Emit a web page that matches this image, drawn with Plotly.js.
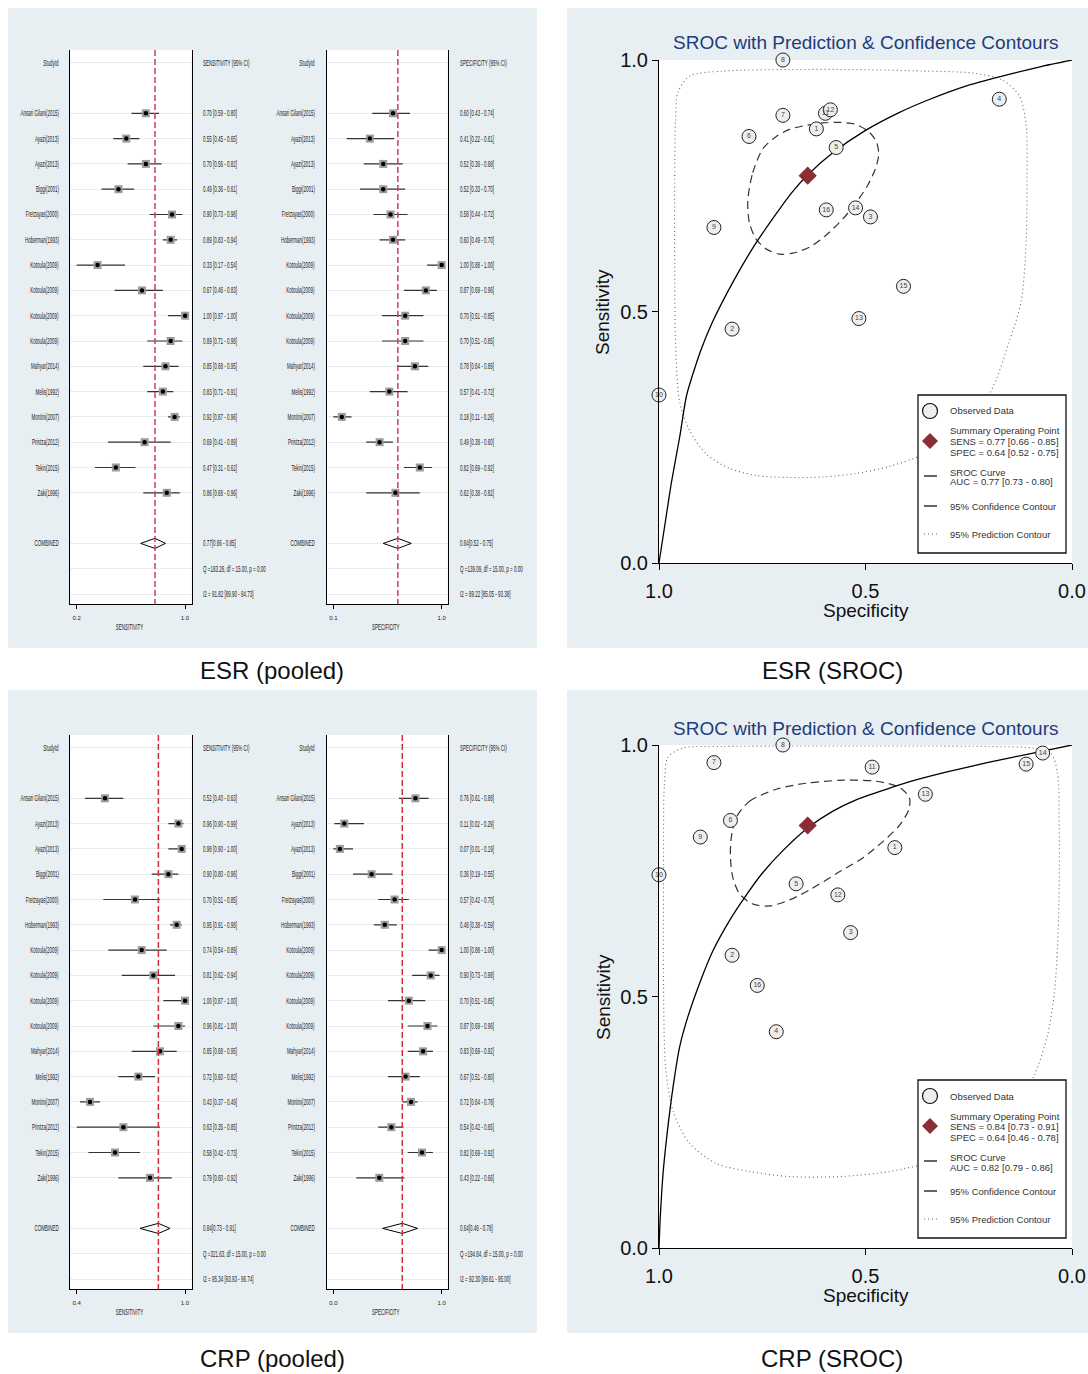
<!DOCTYPE html>
<html><head><meta charset="utf-8">
<script src="https://cdn.plot.ly/plotly-3.0.1.min.js"></script>
<style>html,body{margin:0;padding:0;background:#fff}#chart{width:1088px;height:1374px}</style>
</head><body><div id="chart"></div>
<script>
// ---------------- DATA ----------------
const studies = ["Ansari Gilani(2015)","Ayazi(2013)","Ayazi(2013)","Biggi(2001)","Fretzayas(2000)","Hoberman(1993)","Kotoula(2009)","Kotoula(2009)","Kotoula(2009)","Kotoula(2009)","Mahyar(2014)","Melis(1992)","Montini(2007)","Printza(2012)","Tekin(2015)","Zaki(1996)"];

const esrSens   = [0.70,0.55,0.70,0.49,0.90,0.89,0.33,0.67,1.00,0.89,0.85,0.83,0.92,0.69,0.47,0.86];
const esrSensLo = [0.59,0.45,0.56,0.36,0.73,0.83,0.17,0.46,0.87,0.71,0.68,0.71,0.87,0.41,0.31,0.68];
const esrSensHi = [0.80,0.65,0.82,0.61,0.98,0.94,0.54,0.83,1.00,0.98,0.95,0.91,0.96,0.89,0.62,0.96];
const esrSpec   = [0.60,0.41,0.52,0.52,0.58,0.60,1.00,0.87,0.70,0.70,0.78,0.57,0.18,0.49,0.82,0.62];
const esrSpecLo = [0.43,0.22,0.36,0.33,0.44,0.49,0.88,0.69,0.51,0.51,0.64,0.41,0.11,0.38,0.69,0.38];
const esrSpecHi = [0.74,0.61,0.68,0.70,0.72,0.70,1.00,0.96,0.85,0.85,0.89,0.72,0.26,0.60,0.92,0.82];

const crpSens   = [0.52,0.96,0.98,0.90,0.70,0.95,0.74,0.81,1.00,0.96,0.85,0.72,0.43,0.63,0.58,0.79];
const crpSensLo = [0.40,0.90,0.90,0.80,0.51,0.91,0.54,0.62,0.87,0.81,0.68,0.60,0.37,0.35,0.42,0.60];
const crpSensHi = [0.63,0.99,1.00,0.96,0.85,0.98,0.89,0.94,1.00,1.00,0.95,0.82,0.49,0.85,0.73,0.92];
const crpSpec   = [0.76,0.11,0.07,0.36,0.57,0.48,1.00,0.90,0.70,0.87,0.83,0.67,0.72,0.54,0.82,0.43];
const crpSpecLo = [0.61,0.02,0.01,0.19,0.42,0.38,0.88,0.73,0.51,0.69,0.69,0.51,0.64,0.42,0.69,0.22];
const crpSpecHi = [0.88,0.29,0.19,0.55,0.70,0.59,1.00,0.98,0.85,0.96,0.92,0.80,0.78,0.65,0.92,0.66];

// pooled [estimate, lo, hi]
const esrSensComb = [0.77,0.66,0.85];
const esrSpecComb = [0.64,0.52,0.75];
const crpSensComb = [0.84,0.73,0.91];
const crpSpecComb = [0.64,0.46,0.78];

const esrSensStats = ["Q =183.26, df = 15.00, p = 0.00","I2 = 91.82 [89.90 - 94.73]"];
const esrSpecStats = ["Q =139.09, df = 15.00, p = 0.00","I2 = 89.22 [85.05 - 93.38]"];
const crpSensStats = ["Q =321.63, df = 15.00, p = 0.00","I2 = 95.34 [93.93 - 96.74]"];
const crpSpecStats = ["Q =194.84, df = 15.00, p = 0.00","I2 = 92.30 [89.61 - 95.00]"];

// forest x tick values / labels
const esrSensTickVals = [0.17,1.0], esrSensTickText = ["0.2","1.0"];
const esrSpecTickVals = [0.11,1.0], esrSpecTickText = ["0.1","1.0"];
const crpSensTickVals = [0.35,1.0], crpSensTickText = ["0.4","1.0"];
const crpSpecTickVals = [0.01,1.0], crpSpecTickText = ["0.0","1.0"];

// SROC observed data (labels, specificity, sensitivity)
const srocLabels = ["1","2","3","4","5","6","7","8","9","10","11","12","13","14","15","16"];
const esrObsSpec = [0.619,0.823,0.488,0.176,0.571,0.782,0.700,0.700,0.867,1.000,0.597,0.585,0.516,0.524,0.408,0.595];
const esrObsSens = [0.863,0.465,0.688,0.922,0.826,0.848,0.890,1.000,0.667,0.334,0.894,0.901,0.486,0.706,0.550,0.702];
const crpObsSpec = [0.429,0.823,0.536,0.716,0.668,0.827,0.867,0.700,0.900,1.000,0.484,0.567,0.355,0.071,0.111,0.762];
const crpObsSens = [0.796,0.582,0.627,0.430,0.724,0.850,0.965,1.000,0.817,0.742,0.956,0.702,0.902,0.984,0.962,0.522];

// SROC curves
const esrCurveSpec = [1.0,0.985,0.97,0.95,0.933,0.90,0.87,0.82,0.77,0.72,0.68,0.642,0.58,0.50,0.42,0.35,0.25,0.15,0.07,0.0];
const esrCurveSens = [0.0,0.08,0.16,0.25,0.334,0.42,0.48,0.56,0.63,0.69,0.735,0.77,0.815,0.86,0.895,0.92,0.95,0.972,0.988,1.0];
const crpCurveSpec = [1.0,0.997,0.99,0.98,0.966,0.95,0.93,0.90,0.87,0.83,0.79,0.75,0.70,0.64,0.58,0.52,0.45,0.38,0.30,0.20,0.10,0.0];
const crpCurveSens = [0.0,0.06,0.15,0.23,0.32,0.40,0.46,0.53,0.59,0.65,0.70,0.745,0.79,0.835,0.868,0.892,0.912,0.930,0.947,0.966,0.983,1.0];

// 95% confidence contours
const esrCiSpec = [0.785,0.773,0.748,0.716,0.684,0.644,0.603,0.563,0.523,0.490,0.473,0.468,0.476,0.494,0.523,0.555,0.595,0.635,0.676,0.708,0.740,0.765,0.781,0.785];
const esrCiSens = [0.720,0.776,0.824,0.848,0.862,0.870,0.875,0.876,0.872,0.856,0.836,0.812,0.784,0.752,0.716,0.684,0.652,0.628,0.616,0.614,0.624,0.644,0.676,0.720];
const crpCiSpec = [0.813,0.781,0.716,0.644,0.555,0.474,0.418,0.394,0.395,0.418,0.458,0.506,0.571,0.635,0.684,0.732,0.773,0.805,0.821,0.827,0.825,0.813];
const crpCiSens = [0.856,0.888,0.912,0.924,0.930,0.928,0.916,0.896,0.872,0.840,0.808,0.776,0.744,0.712,0.692,0.680,0.684,0.704,0.736,0.776,0.816,0.856];

// 95% prediction contours
const esrPrSpec = [0.962,0.960,0.954,0.926,0.845,0.684,0.523,0.361,0.240,0.168,0.127,0.111,0.109,0.111,0.123,0.152,0.200,0.281,0.361,0.442,0.523,0.603,0.684,0.765,0.829,0.885,0.926,0.950,0.960,0.962,0.962];
const esrPrSens = [0.760,0.880,0.936,0.968,0.978,0.981,0.981,0.978,0.974,0.960,0.928,0.872,0.760,0.640,0.520,0.440,0.336,0.264,0.216,0.192,0.178,0.171,0.170,0.174,0.188,0.216,0.264,0.320,0.440,0.600,0.760];
const crpPrSpec = [0.989,0.987,0.978,0.942,0.845,0.684,0.523,0.361,0.200,0.095,0.051,0.035,0.031,0.031,0.035,0.043,0.059,0.091,0.144,0.216,0.321,0.442,0.563,0.684,0.781,0.861,0.926,0.966,0.984,0.989,0.989];
const crpPrSens = [0.760,0.920,0.976,0.994,0.997,0.998,0.998,0.998,0.997,0.994,0.984,0.944,0.840,0.720,0.600,0.504,0.424,0.344,0.272,0.216,0.176,0.152,0.142,0.142,0.152,0.168,0.208,0.272,0.360,0.520,0.760];

const srocTickVals = [0,0.5,1], srocTickText = ["0.0","0.5","1.0"];
const esrAuc = "0.77 [0.73 - 0.80]";
const crpAuc = "0.82 [0.79 - 0.86]";

// ---------------- LAYOUT HELPERS ----------------
const W = 1088, H = 1374;
const px = v => v / W, py = v => 1 - v / H;
const SANS = '"Liberation Sans", Arial, sans-serif';
const PANEL = '#e8eff2';
const SQUEEZE = 0.5;           // horizontal compression of the forest-plot text
const squeezeIdx = new Set();

const traces = [], shapes = [], annotations = [];
const layout = {width:W, height:H, margin:{l:0,r:0,t:0,b:0,pad:0}, paper_bgcolor:'#ffffff',
  plot_bgcolor:'rgba(0,0,0,0)', showlegend:false, hovermode:false, shapes, annotations};

[[8,8,537,648],[567,8,1088,648],[8,690,537,1333],[567,690,1088,1333]].forEach(r =>
  shapes.push({type:'rect', xref:'paper', yref:'paper', x0:px(r[0]), x1:px(r[2]), y0:py(r[3]), y1:py(r[1]),
    fillcolor:PANEL, line:{width:0}, layer:'below'}));

function txt(x, y, text, o) {
  annotations.push(Object.assign({x:x, y:y, text:text, showarrow:false, xref:'paper', yref:'paper',
    xanchor:'center', yanchor:'middle', font:{family:SANS, size:10, color:'#222'}}, o || {}));
}

const SLOT = 25.3;
function forest(c) {
  const sx = c.n === 1 ? '' : String(c.n);
  const xa = 'x' + sx, ya = 'y' + sx;
  const top = c.header - 0.5 * SLOT, bottom = c.header + 21.4 * SLOT;
  shapes.push({type:'rect', xref:'paper', yref:'paper', x0:px(c.left), x1:px(c.right), y0:py(bottom), y1:py(top),
    fillcolor:'#ffffff', line:{width:0}, layer:'below'});
  const gridSlots = [0];
  for (let i = 0; i < c.vals.length; i++) gridSlots.push(i + 2);
  gridSlots.push(19, 20, 21);
  layout['xaxis' + sx] = {domain:[px(c.left), px(c.right)], range:c.range, anchor:ya,
    tickvals:c.tickVals, ticktext:c.tickText, ticks:'outside', ticklen:4, tickwidth:1, tickcolor:'#000',
    ticklabelstandoff:4,
    showline:true, linecolor:'#000', linewidth:1, showgrid:false, zeroline:false,
    tickfont:{family:SANS, size:6, color:'#222'}, fixedrange:true};
  layout['yaxis' + sx] = {domain:[py(bottom), py(top)], range:[21.4, -0.5], anchor:xa,
    tickvals:gridSlots, showticklabels:false, ticks:'', showgrid:true, gridcolor:'#e6edf0', gridwidth:1,
    showline:true, mirror:true, linecolor:'#000', linewidth:1, zeroline:false, fixedrange:true};
  const slots = c.vals.map((v, i) => i + 2);
  traces.push({type:'scatter', mode:'markers', x:c.vals, y:slots, xaxis:xa, yaxis:ya, cliponaxis:false,
    marker:{symbol:'square', size:8, color:'#9c9c9c'},
    error_x:{type:'data', symmetric:false, array:c.hi.map((h, i) => h - c.vals[i]),
      arrayminus:c.vals.map((v, i) => v - c.lo[i]), width:0, thickness:1.2, color:'#333'}});
  traces.push({type:'scatter', mode:'markers', x:c.vals, y:slots, xaxis:xa, yaxis:ya, cliponaxis:false,
    marker:{symbol:'circle', size:4.5, color:'#000'}});
  const cb = c.comb;
  traces.push({type:'scatter', mode:'lines', x:[cb[1], cb[0], cb[2], cb[0], cb[1]], y:[19, 18.8, 19, 19.2, 19],
    xaxis:xa, yaxis:ya, line:{color:'#000', width:1}});
  shapes.push({type:'line', xref:xa, yref:ya, x0:cb[0], x1:cb[0], y0:-0.5, y1:21.4,
    line:{color:c.dash, width:1.5, dash:'6px,3px'}, layer:'above'});
  const f = {family:SANS, size:9, color:'#222'};
  const lab = (k, t) => { squeezeIdx.add(annotations.length);
    annotations.push({xref:'paper', yref:ya, x:px(c.labelX), y:k, text:t, showarrow:false,
      xanchor:'right', yanchor:'middle', font:f}); };
  const val = (k, t) => { squeezeIdx.add(annotations.length);
    annotations.push({xref:'paper', yref:ya, x:px(c.valueX), y:k, text:t, showarrow:false,
      xanchor:'left', yanchor:'middle', font:f}); };
  lab(0, 'StudyId');
  val(0, c.headerText);
  studies.forEach((s, i) => {
    lab(i + 2, s);
    val(i + 2, c.vals[i].toFixed(2) + ' [' + c.lo[i].toFixed(2) + ' - ' + c.hi[i].toFixed(2) + ']');
  });
  lab(19, 'COMBINED');
  val(19, cb[0].toFixed(2) + '[' + cb[1].toFixed(2) + ' - ' + cb[2].toFixed(2) + ']');
  val(20, c.stats[0]);
  val(21, c.stats[1]);
  squeezeIdx.add(annotations.length);
  txt(px(c.titleX), py(c.header + 564.5), c.axisTitle, {font:{family:SANS, size:9, color:'#222'}});
}

forest({n:1, left:70.3, right:191.7, header:62.7, vals:esrSens, lo:esrSensLo, hi:esrSensHi, comb:esrSensComb,
  range:[0.121, 1.051], tickVals:esrSensTickVals, tickText:esrSensTickText, labelX:61, valueX:200.7,
  headerText:'SENSITIVITY (95% CI)', stats:esrSensStats, axisTitle:'SENSITIVITY', titleX:129, dash:'#cf3a62'});
forest({n:2, left:326.7, right:447.7, header:62.7, vals:esrSpec, lo:esrSpecLo, hi:esrSpecHi, comb:esrSpecComb,
  range:[0.0558, 1.0493], tickVals:esrSpecTickVals, tickText:esrSpecTickText, labelX:316.7, valueX:457.7,
  headerText:'SPECIFICITY (95% CI)', stats:esrSpecStats, axisTitle:'SPECIFICITY', titleX:386, dash:'#cf3a62'});
forest({n:4, left:70.3, right:191.7, header:747.7, vals:crpSens, lo:crpSensLo, hi:crpSensHi, comb:crpSensComb,
  range:[0.3116, 1.040], tickVals:crpSensTickVals, tickText:crpSensTickText, labelX:61, valueX:200.7,
  headerText:'SENSITIVITY (95% CI)', stats:crpSensStats, axisTitle:'SENSITIVITY', titleX:129, dash:'#d62a35'});
forest({n:5, left:326.7, right:447.7, header:747.7, vals:crpSpec, lo:crpSpecLo, hi:crpSpecHi, comb:crpSpecComb,
  range:[-0.0503, 1.0548], tickVals:crpSpecTickVals, tickText:crpSpecTickText, labelX:316.7, valueX:457.7,
  headerText:'SPECIFICITY (95% CI)', stats:crpSpecStats, axisTitle:'SPECIFICITY', titleX:386, dash:'#d62a35'});

function sroc(c) {
  const sx = String(c.n), xa = 'x' + sx, ya = 'y' + sx;
  const top = c.top, bottom = c.top + 503, left = 659, right = 1072;
  shapes.push({type:'rect', xref:'paper', yref:'paper', x0:px(left), x1:px(right), y0:py(bottom), y1:py(top),
    fillcolor:'#ffffff', line:{width:0}, layer:'below'});
  const ax = {tickvals:srocTickVals, ticktext:srocTickText, ticks:'outside', ticklen:6, tickwidth:1, tickcolor:'#000',
    showline:true, linecolor:'#000', linewidth:1, showgrid:false, zeroline:false, fixedrange:true,
    tickfont:{family:SANS, size:20, color:'#111'}};
  layout['xaxis' + sx] = Object.assign({domain:[px(left), px(right)], range:[1, 0], anchor:ya, ticklabelstandoff:4}, ax);
  layout['yaxis' + sx] = Object.assign({domain:[py(bottom), py(top)], range:[0, 1], anchor:xa}, ax);
  traces.push({type:'scatter', mode:'lines', x:c.prSpec, y:c.prSens, xaxis:xa, yaxis:ya,
    line:{color:'#666', width:1.1, dash:'1px,3px', shape:'spline', smoothing:0.8}});
  traces.push({type:'scatter', mode:'lines', x:c.ciSpec, y:c.ciSens, xaxis:xa, yaxis:ya,
    line:{color:'#333', width:1.2, dash:'8px,5px', shape:'spline', smoothing:0.8}});
  traces.push({type:'scatter', mode:'lines', x:c.curveSpec, y:c.curveSens, xaxis:xa, yaxis:ya,
    line:{color:'#000', width:1.3, shape:'spline', smoothing:0.6}});
  traces.push({type:'scatter', mode:'markers+text', x:c.obsSpec, y:c.obsSens, text:srocLabels, xaxis:xa, yaxis:ya,
    cliponaxis:false, textposition:'middle center', textfont:{family:SANS, size:7, color:'#444'},
    marker:{symbol:'circle', size:14, color:'#eeeeee', line:{color:'#222', width:1}}});
  traces.push({type:'scatter', mode:'markers', x:[c.sumSpec], y:[c.sumSens], xaxis:xa, yaxis:ya, cliponaxis:false,
    marker:{symbol:'diamond', size:14, color:'#8b2d37', line:{width:0}}});
  txt(px(865), py(top - 17), 'SROC with Prediction &amp; Confidence Contours', {font:{family:SANS, size:19, color:'#1f3c7a'}});
  txt(px(603), py(top + 252), 'Sensitivity', {textangle:-90, font:{family:SANS, size:19, color:'#111'}});
  txt(px(866), py(top + 550), 'Specificity', {font:{family:SANS, size:19, color:'#111'}});
  // legend box
  shapes.push({type:'rect', xref:'paper', yref:'paper', x0:px(918), x1:px(1066), y0:py(top + 493), y1:py(top + 335),
    fillcolor:'#ffffff', line:{color:'#111', width:1.3}, layer:'above'});
  shapes.push({type:'circle', xref:'paper', yref:'paper', x0:px(922.5), x1:px(937.5), y0:py(top + 358.5), y1:py(top + 343.5),
    fillcolor:'#eeeeee', line:{color:'#111', width:1.2}, layer:'above'});
  shapes.push({type:'path', xref:'paper', yref:'paper', layer:'above', fillcolor:'#8b2d37', line:{width:0},
    path:'M' + px(930) + ',' + py(top + 373) + ' L' + px(938) + ',' + py(top + 381) + ' L' + px(930) + ',' + py(top + 389) +
      ' L' + px(922) + ',' + py(top + 381) + ' Z'});
  shapes.push({type:'line', xref:'paper', yref:'paper', x0:px(924), x1:px(937), y0:py(top + 416), y1:py(top + 416),
    line:{color:'#111', width:1.3}, layer:'above'});
  shapes.push({type:'line', xref:'paper', yref:'paper', x0:px(924), x1:px(937), y0:py(top + 446), y1:py(top + 446),
    line:{color:'#111', width:1.3}, layer:'above'});
  shapes.push({type:'line', xref:'paper', yref:'paper', x0:px(924), x1:px(938), y0:py(top + 474), y1:py(top + 474),
    line:{color:'#666', width:1, dash:'1px,3px'}, layer:'above'});
  const lf = {family:SANS, size:9.5, color:'#333'};
  const L = (dy, t) => txt(px(948), py(top + dy), t, {xanchor:'left', font:lf});
  L(351, 'Observed Data');
  L(371, 'Summary Operating Point');
  L(381.5, 'SENS = ' + c.sumSens.toFixed(2) + ' [' + c.sensCI + ']');
  L(392, 'SPEC = ' + c.sumSpec.toFixed(2) + ' [' + c.specCI + ']');
  L(412, 'SROC Curve');
  L(422, 'AUC = ' + c.auc);
  L(446, '95% Confidence Contour');
  L(474, '95% Prediction Contour');
}

sroc({n:3, top:60, obsSpec:esrObsSpec, obsSens:esrObsSens, sumSpec:esrSpecComb[0], sumSens:esrSensComb[0],
  sensCI:esrSensComb[1].toFixed(2) + ' - ' + esrSensComb[2].toFixed(2), specCI:esrSpecComb[1].toFixed(2) + ' - ' + esrSpecComb[2].toFixed(2),
  curveSpec:esrCurveSpec, curveSens:esrCurveSens, ciSpec:esrCiSpec, ciSens:esrCiSens, prSpec:esrPrSpec, prSens:esrPrSens, auc:esrAuc});
sroc({n:6, top:745, obsSpec:crpObsSpec, obsSens:crpObsSens, sumSpec:crpSpecComb[0], sumSens:crpSensComb[0],
  sensCI:crpSensComb[1].toFixed(2) + ' - ' + crpSensComb[2].toFixed(2), specCI:crpSpecComb[1].toFixed(2) + ' - ' + crpSpecComb[2].toFixed(2),
  curveSpec:crpCurveSpec, curveSens:crpCurveSens, ciSpec:crpCiSpec, ciSens:crpCiSens, prSpec:crpPrSpec, prSens:crpPrSens, auc:crpAuc});

// captions
const capFont = {family:SANS, size:24, color:'#111'};
txt(px(272), py(670), 'ESR (pooled)', {font:capFont});
txt(px(832), py(670), 'ESR (SROC)', {font:capFont});
txt(px(272), py(1358), 'CRP (pooled)', {font:capFont});
txt(px(832), py(1358), 'CRP (SROC)', {font:capFont});

Plotly.newPlot('chart', traces, layout, {staticPlot:true, displayModeBar:false}).then(gd => {
  // compress the forest-plot text horizontally (the original uses a very condensed face)
  gd.querySelectorAll('g.annotation').forEach(g => {
    const idx = +g.getAttribute('data-index');
    if (!squeezeIdx.has(idx)) return;
    const t = g.querySelector('text.annotation-text');
    if (!t) return;
    const bb = t.getBBox();
    const anch = annotations[idx].xanchor;
    const ax = anch === 'left' ? bb.x : anch === 'right' ? bb.x + bb.width : bb.x + bb.width / 2;
    t.setAttribute('transform', 'translate(' + (ax * (1 - SQUEEZE)) + ',0) scale(' + SQUEEZE + ',1)');
  });
});
</script></body></html>
